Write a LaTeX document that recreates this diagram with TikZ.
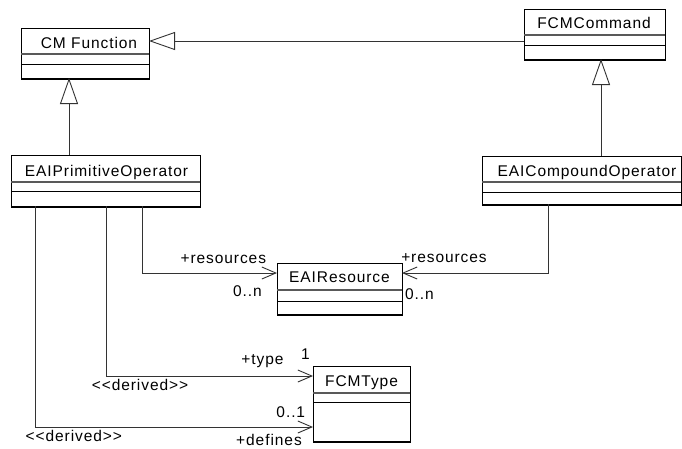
\documentclass[tikz,border=0pt]{standalone}
\usepackage{fontspec}
\newfontfamily\umlfont{Liberation Sans}[LetterSpace=6]
\usetikzlibrary{arrows.meta}
\tikzset{
  classbox/.style={draw=black, line width=1pt, inner sep=0pt, outer sep=0pt, anchor=north west, fill=white},
  cline1/.style={draw=black!65, line width=1.3pt},
  cline2/.style={draw=black, line width=1pt},
  shadowline/.style={draw=black, line width=2pt},
  txt/.style={font=\umlfont\fontsize{15.5}{18}\selectfont, inner sep=0pt, anchor=base},
  conn/.style={draw=black!80, line width=0.9pt},
  gen/.style={conn, -{Triangle[open, length=26pt, width=18pt, fill=white, line width=0.9pt]}},
  nav/.style={conn, -{Straight Barb[length=14pt, width=12pt, line width=0.9pt]}}
}
% name, x1, y1, x2, y2, divider1, divider2
\newcommand\umlclass[7]{%
  \node[classbox, minimum width={(#4-#2)*1pt}, minimum height={(#5-#3)*1pt}] (#1) at (#2,#3) {};
  \draw[cline1] (#2,#6) -- (#4,#6);
  \draw[cline2] (#2,#7) -- (#4,#7);
  \draw[shadowline] (#2,#5+0.5) -- (#4+0.5,#5+0.5);
}
\begin{document}
\begin{tikzpicture}[x=1pt,y=-1pt]
\useasboundingbox[fill=white] (0,0) rectangle (682,448);

% classes
\umlclass{cmf}{21}{28}{149}{78}{54}{64}
\umlclass{fcmc}{524}{9}{665}{59}{35}{45}
\umlclass{prim}{11}{155}{200}{206}{182}{191}
\umlclass{comp}{482}{156}{681}{204}{182}{192}
\umlclass{res}{277}{263}{402}{314}{290}{301}
\umlclass{type}{313}{366}{410}{441}{393}{402}

% class names
\node[txt] (cmf-name)  at (89,48.3)   {CM Function};
\node[txt] (fcmc-name) at (594,28.3)  {FCMCommand};
\node[txt] (prim-name) at (106.5,176) {EAIPrimitiveOperator};
\node[txt] (comp-name) at (587,176)   {EAICompoundOperator};
\node[txt] (res-name)  at (339.5,282.7) {EAIResource};
\node[txt] (type-name) at (361.5,386.7) {FCMType};

% generalizations
\draw[gen] (fcmc.west |- 0,41) -- (cmf.east |- 0,41);
\draw[gen] (prim.north -| 69,0) -- (cmf.south -| 69,0);
\draw[gen] (comp.north -| 601,0) -- (fcmc.south -| 601,0);

% associations
\draw[nav] (prim.south -| 142,0) |- (res.west |- 0,273);
\draw[nav] (comp.south -| 548,0) |- (res.east |- 0,273);
\draw[nav] (prim.south -| 106,0) |- (type.west |- 0,376);
\draw[nav] (prim.south -| 35,0) |- (type.west |- 0,427);

% labels
\node[txt] (l-res1)  at (223.3,263.3) {+resources};
\node[txt] (l-m1)    at (247.5,296.7) {0..n};
\node[txt] (l-res2)  at (444,262.3)   {+resources};
\node[txt] (l-m2)    at (419.5,299)   {0..n};
\node[txt] (l-type)  at (262.5,364.3) {+type};
\node[txt] (l-one)   at (305.5,359)   {1};
\node[txt] (l-der1)  at (140,390.7)   {<{}<derived>{}>};
\node[txt] (l-01)    at (290.8,417)   {0..1};
\node[txt] (l-der2)  at (73.8,441.7)  {<{}<derived>{}>};
\node[txt] (l-def)   at (269,445)     {+defines};
\end{tikzpicture}
\end{document}
